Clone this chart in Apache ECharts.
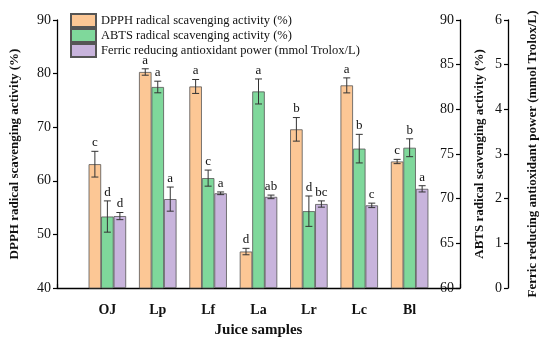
<!DOCTYPE html>
<html><head><meta charset="utf-8">
<script src="https://cdn.jsdelivr.net/npm/echarts@6/dist/echarts.min.js"></script>
<style>html,body{margin:0;padding:0;background:#fff}#c{width:550px;height:343px}</style>
</head><body><div id="c"></div>
<script>
const categories = ['OJ','Lp','Lf','La','Lr','Lc','Bl'];
const dpph = [63.1, 80.3, 77.6, 46.8, 69.6, 77.8, 63.6];
const dpphErr = [2.4, 0.6, 1.3, 0.6, 2.2, 1.4, 0.4];
const dpphLetters = ['c','a','a','d','b','a','c'];
const abts = [68.0, 82.5, 72.3, 82.0, 68.6, 75.6, 75.7];
const abtsErr = [1.75, 0.65, 0.9, 1.4, 1.7, 1.6, 1.0];
const abtsLetters = ['d','a','c','a','d','b','b'];
const frap = [1.61, 1.99, 2.12, 2.04, 1.88, 1.85, 2.22];
const frapErr = [0.08, 0.27, 0.03, 0.04, 0.07, 0.05, 0.07];
const frapLetters = ['d','a','a','ab','bc','c','a'];
const leftTicks = [40, 50, 60, 70, 80, 90];
const names = ['DPPH radical scavenging activity (%)','ABTS radical scavenging activity (%)','Ferric reducing antioxidant power (mmol Trolox/L)'];

const FONT = '"Liberation Serif","Times New Roman",serif';
const BAR_W = 12.5;
const colors = ['#fcc795', '#7fd89b', '#c8b4dc'];
const axisCats = [''].concat(categories, ['']);
const pad = arr => [null].concat(arr, [null]);

function errSeries(si, vals, errs, letters, yIdx) {
  return {
    type: 'custom', yAxisIndex: yIdx, z: 5, silent: true,
    data: vals.map((v, i) => [i + 1, v, errs[i]]),
    encode: {x: 0, y: 1},
    renderItem: function (params, api) {
      const x = api.value(0), v = api.value(1), e = api.value(2);
      const pT = api.coord([x, v + e]);
      const pB = api.coord([x, v - e]);
      const cx = pT[0] + (si - 1) * BAR_W;
      const cap = 3.5;
      const st = {stroke: '#333', lineWidth: 1};
      return {type: 'group', children: [
        {type: 'line', shape: {x1: cx, y1: pT[1], x2: cx, y2: pB[1]}, style: st},
        {type: 'line', shape: {x1: cx - cap, y1: pT[1], x2: cx + cap, y2: pT[1]}, style: st},
        {type: 'line', shape: {x1: cx - cap, y1: pB[1], x2: cx + cap, y2: pB[1]}, style: st},
        {type: 'text', x: cx, y: pT[1] - 2, style: {text: letters[params.dataIndex], font: '13px ' + FONT, fill: '#111', textAlign: 'center', textVerticalAlign: 'bottom'}}
      ]};
    }
  };
}

function barSeries(i, vals, yIdx) {
  return {
    name: names[i], type: 'bar', yAxisIndex: yIdx, data: pad(vals),
    barWidth: BAR_W, barGap: '0%',
    itemStyle: {color: colors[i], borderColor: '#555', borderWidth: 0.8}
  };
}

const axLine = {show: true, lineStyle: {color: '#000', width: 1.3}};
const tick = inside => ({show: true, inside: inside, length: 4, lineStyle: {color: '#000', width: 1.2}});
const chart = echarts.init(document.getElementById('c'), null, {renderer: 'canvas'});
chart.setOption({
  animation: false,
  textStyle: {fontFamily: FONT},
  grid: {left: 51, right: 90, top: 20, bottom: 49},
  legend: {
    orient: 'vertical', left: 70, top: 13, padding: 0, itemWidth: 25, itemHeight: 13, itemGap: 0,
    icon: 'rect', textStyle: {fontFamily: FONT, fontSize: 12.5, lineHeight: 13, color: '#111'},
    data: names
  },
  xAxis: {
    type: 'category', data: axisCats, boundaryGap: false,
    axisLine: axLine, axisTick: tick(true),
    axisLabel: {fontFamily: FONT, fontSize: 14, fontWeight: 'bold', color: '#111', margin: 15, interval: 0},
    name: 'Juice samples', nameLocation: 'middle', nameGap: 35,
    nameTextStyle: {fontFamily: FONT, fontSize: 15, fontWeight: 'bold', color: '#111'},
    splitLine: {show: false}
  },
  yAxis: [
    {type: 'value', min: leftTicks[0], max: leftTicks[leftTicks.length - 1], interval: 10, position: 'left',
     axisLine: axLine, axisTick: tick(false),
     axisLabel: {fontFamily: FONT, fontSize: 14, color: '#111', margin: 6},
     splitLine: {show: false},
     name: names[0], nameLocation: 'middle', nameGap: 36, nameRotate: 90,
     nameTextStyle: {fontFamily: FONT, fontSize: 13, fontWeight: 'bold', color: '#111'}},
    {type: 'value', min: 60, max: 90, interval: 5, position: 'right', offset: 0,
     axisLine: axLine, axisTick: tick(true),
     axisLabel: {inside: true, fontFamily: FONT, fontSize: 14, color: '#111', margin: 6},
     splitLine: {show: false},
     name: names[1], nameLocation: 'middle', nameGap: 13, nameRotate: 90,
     nameTextStyle: {fontFamily: FONT, fontSize: 13, fontWeight: 'bold', color: '#111'}},
    {type: 'value', min: 0, max: 6, interval: 1, position: 'right', offset: 48,
     axisLine: axLine, axisTick: tick(true),
     axisLabel: {inside: true, fontFamily: FONT, fontSize: 14, color: '#111', margin: 6},
     splitLine: {show: false},
     name: names[2], nameLocation: 'middle', nameGap: 18, nameRotate: 90,
     nameTextStyle: {fontFamily: FONT, fontSize: 13, fontWeight: 'bold', color: '#111'}}
  ],
  series: [
    barSeries(0, dpph, 0), barSeries(1, abts, 1), barSeries(2, frap, 2),
    errSeries(0, dpph, dpphErr, dpphLetters, 0),
    errSeries(1, abts, abtsErr, abtsLetters, 1),
    errSeries(2, frap, frapErr, frapLetters, 2)
  ]
});
</script></body></html>
